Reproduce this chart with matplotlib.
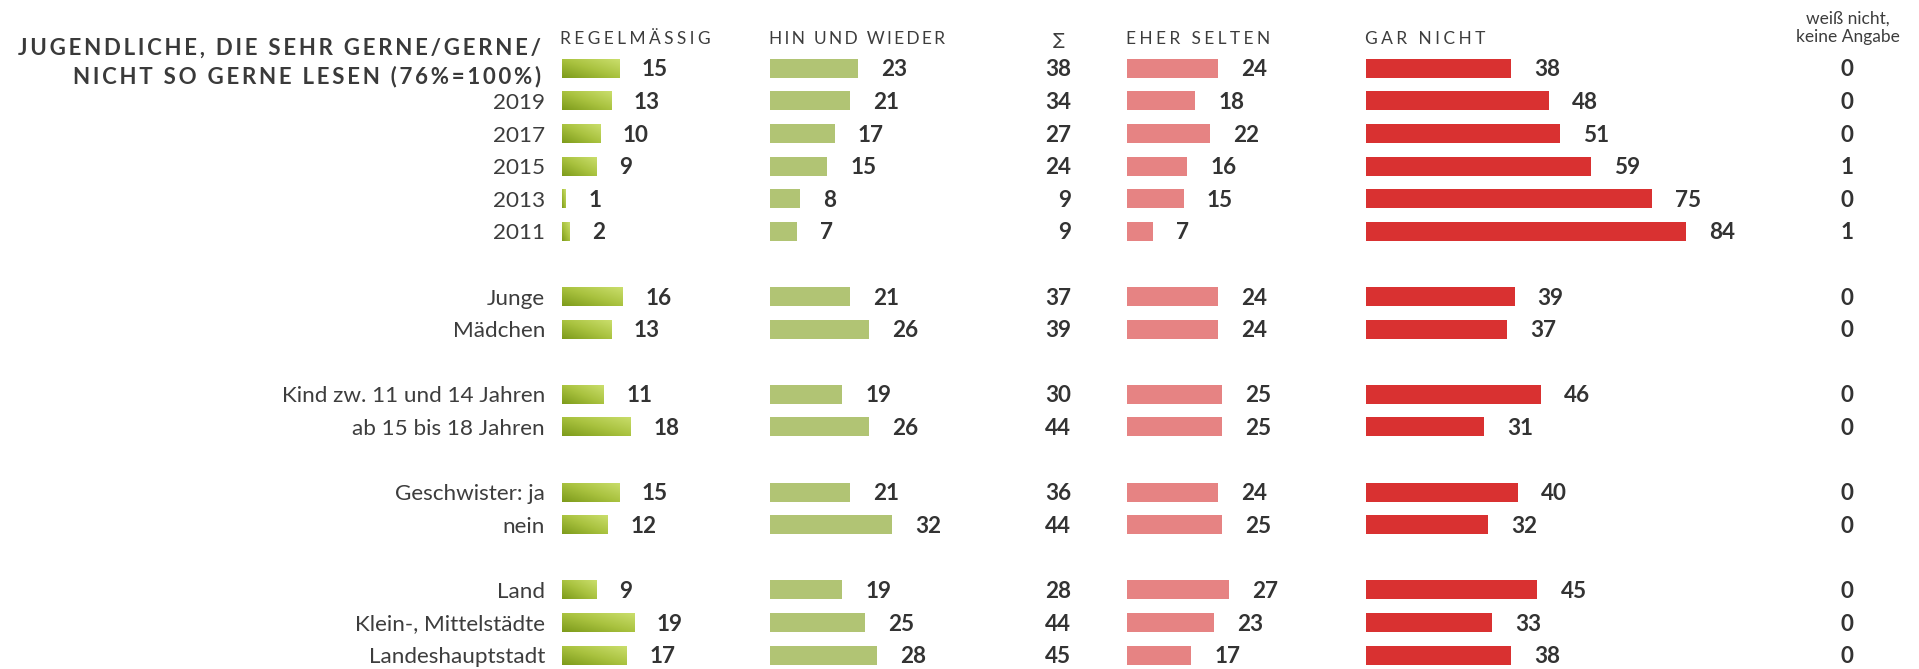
import numpy as np
import matplotlib
matplotlib.use("Agg")
import matplotlib.pyplot as plt
from matplotlib.colors import LinearSegmentedColormap

# ---------------- data ----------------
title_lines = ["JUGENDLICHE, DIE SEHR GERNE/GERNE/", "NICHT SO GERNE LESEN (76%=100%)"]
col_headers = ["REGELMÄSSIG", "HIN UND WIEDER", "EHER SELTEN", "GAR NICHT"]
sum_header = "∑"
wn_header = ["weiß nicht,", "keine Angabe"]

row_labels = ["", "2019", "2017", "2015", "2013", "2011",
              "Junge", "Mädchen",
              "Kind zw. 11 und 14 Jahren", "ab 15 bis 18 Jahren",
              "Geschwister: ja", "nein",
              "Land", "Klein-, Mittelstädte", "Landeshauptstadt"]
group_sizes = [6, 2, 2, 2, 3]

regelmaessig = [15, 13, 10, 9, 1, 2, 16, 13, 11, 18, 15, 12, 9, 19, 17]
hin_und_wieder = [23, 21, 17, 15, 8, 7, 21, 26, 19, 26, 21, 32, 19, 25, 28]
summe = [38, 34, 27, 24, 9, 9, 37, 39, 30, 44, 36, 44, 28, 44, 45]
eher_selten = [24, 18, 22, 16, 15, 7, 24, 24, 25, 25, 24, 25, 27, 23, 17]
gar_nicht = [38, 48, 51, 59, 75, 84, 39, 37, 46, 31, 40, 32, 45, 33, 38]
weiss_nicht = [0, 0, 0, 1, 0, 1, 0, 0, 0, 0, 0, 0, 0, 0, 0]

# ---------------- layout ----------------
W, H, DPI = 1919, 669, 100
PPU = 3.81           # pixels per percentage point
ROW0 = 68.3          # px from top, centre of first row
PITCH = 32.6         # px per row slot
BAR_H = 19.0 / PITCH
col_x0 = [561.5, 770, 1126.5, 1366]   # px, bar starts
hdr_width = [146, 182, 140, 116]    # px, tracked header widths
title_width = [531, 458]
label_right = 545
sum_right = 1071
sum_hdr_x = 1059
wn_x = 1847
val_gap = 23

TXT = "#333333"
LBL = "#3d3d3d"
col_colors = [None, "#b1c474", "#e68383", "#d93131"]
grad_cmap = LinearSegmentedColormap.from_list("g", ["#7d9b1b", "#a9c23f", "#cade6c"])

FONT = ["Lato", "DejaVu Sans"]
plt.rcParams["font.family"] = FONT

fig = plt.figure(figsize=(W / DPI, H / DPI), dpi=DPI)
ax = fig.add_axes([0, 0, 1, 1])
ax.set_xlim(0, W / PPU)
ax.set_ylim((H - ROW0) / PITCH, -ROW0 / PITCH)
ax.axis("off")
renderer = fig.canvas.get_renderer()

def px2x(px):
    return px / PPU

def px2y(py):
    return (py - ROW0) / PITCH

def tracked_text(x, y, s, target_w, **kw):
    """text with letter spacing built from hair spaces, chosen to match width"""
    best = None
    for n in range(0, 9):
        st = ("\u200a" * n).join(s)
        t = ax.text(x, y, st, **kw)
        w = t.get_window_extent(renderer=renderer).width
        t.remove()
        err = abs(w - target_w)
        if best is None or err < best[0]:
            best = (err, st)
    return ax.text(x, y, best[1], **kw)

# slots (one empty slot between groups)
slots = []
s = 0
for g in group_sizes:
    slots.extend(range(s, s + g))
    s += g + 1
slots = np.array(slots, dtype=float)

series = [regelmaessig, hin_und_wieder, eher_selten, gar_nicht]

VAL_FS = 16.2
LBL_FS = 16.2
em_val = VAL_FS * DPI / 72
em_lbl = LBL_FS * DPI / 72
cap = 0.7165
val_off = 0.5 * cap * em_val / PITCH
lbl_off = 0.5 * cap * em_lbl / PITCH

for k, vals in enumerate(series):
    left = px2x(col_x0[k])
    vals = np.array(vals, dtype=float)
    if k == 0:
        bars = ax.barh(slots, vals, left=left, height=BAR_H, color="none",
                       edgecolor="none")
        n, m = 40, 80
        yy, xx = np.mgrid[0:n, 0:m]
        G = (xx / (m - 1) + (1 - yy / (n - 1))) / 2
        for b in bars:
            x0, y0 = b.get_x(), b.get_y()
            w, h = b.get_width(), b.get_height()
            im = ax.imshow(G, cmap=grad_cmap, vmin=0, vmax=1, origin="upper",
                           extent=(x0, x0 + w, y0 + h, y0), aspect="auto",
                           interpolation="bilinear", zorder=2)
            im.set_clip_path(b)
    else:
        ax.barh(slots, vals, left=left, height=BAR_H, color=col_colors[k],
                edgecolor="none", zorder=2)
    for sl, v in zip(slots, vals):
        ax.text(left + v + px2x(val_gap), sl + val_off, f"{int(v)}",
                ha="left", va="baseline", fontsize=VAL_FS, fontweight="bold",
                color=TXT)

# sum column
for sl, v in zip(slots, summe):
    ax.text(px2x(sum_right), sl + val_off, f"{v}", ha="right", va="baseline",
            fontsize=VAL_FS, fontweight="bold", color=TXT)
# weiss nicht column
for sl, v in zip(slots, weiss_nicht):
    ax.text(px2x(wn_x), sl + val_off, f"{v}", ha="center", va="baseline",
            fontsize=VAL_FS, fontweight="bold", color=TXT)
# row labels
for sl, lab in zip(slots, row_labels):
    if lab:
        ax.text(px2x(label_right), sl + lbl_off, lab, ha="right", va="baseline",
                fontsize=LBL_FS, fontweight="normal", color=LBL)

# headers
HDR_FS = 12.5
for k, hdr in enumerate(col_headers):
    tracked_text(px2x(col_x0[k] - 1), px2y(44.5), hdr, hdr_width[k],
                 ha="left", va="baseline", fontsize=HDR_FS,
                 fontweight="normal", color=LBL)
ax.text(px2x(sum_hdr_x), px2y(45), sum_header, ha="center", va="baseline",
        fontsize=HDR_FS, color=LBL, family=["DejaVu Sans"])
ax.text(px2x(1848), px2y(23.5), wn_header[0], ha="center", va="baseline",
        fontsize=12.5, color=LBL)
ax.text(px2x(1848), px2y(42), wn_header[1], ha="center", va="baseline",
        fontsize=12.5, color=LBL)

# title
for line, yb, tw in zip(title_lines, [55, 83], title_width):
    tracked_text(px2x(541), px2y(yb), line, tw, ha="right", va="baseline",
                 fontsize=16, fontweight="bold", color="#3a3a3a")

fig.savefig("out.png", dpi=DPI)
